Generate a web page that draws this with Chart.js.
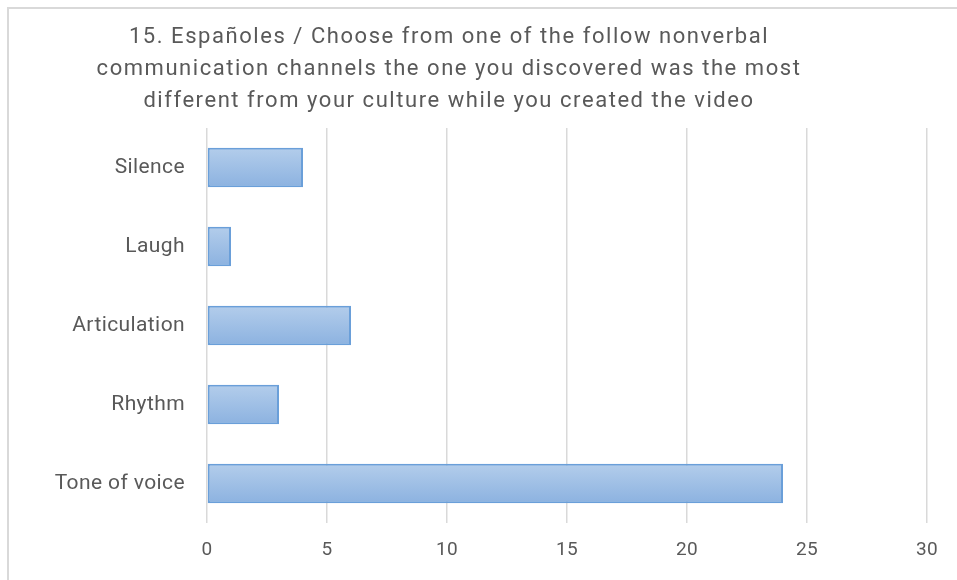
<!DOCTYPE html>
<html>
<head>
<meta charset="utf-8">
<script src="https://cdn.jsdelivr.net/npm/chart.js@4"></script>
<style>
  html, body { margin: 0; padding: 0; background: #fff; }
  #wrap { width: 957px; height: 580px; }
</style>
</head>
<body>
<div id="wrap"><canvas id="chart" width="957" height="580"></canvas></div>
<script>
const titleLines = [
  '15. Españoles / Choose from one of the follow nonverbal',
  'communication channels the one you discovered was the most',
  'different from your culture while you created the video'
];
const categories = ['Silence', 'Laugh', 'Articulation', 'Rhythm', 'Tone of voice'];
const counts = [4, 1, 6, 3, 24];
const xMin = 0, xMax = 30, xStep = 5;

const FONT = '"Liberation Sans Narrow", Roboto, sans-serif';
const TEXT = '#595959';

// light outer frame, plus a bit of tracking for all the axis text
const framePlugin = {
  id: 'frame',
  beforeDraw(chart) {
    const { ctx } = chart;
    ctx.save();
    ctx.strokeStyle = '#d9d9d9';
    ctx.lineWidth = 2;
    ctx.strokeRect(8, 8, 1000, 1000);
    ctx.restore();
    ctx.letterSpacing = '0.4px';
  }
};

// three-line title, centred a bit left of the canvas middle
const titlePlugin = {
  id: 'titleLines',
  afterDraw(chart) {
    const { ctx } = chart;
    ctx.save();
    ctx.fillStyle = TEXT;
    ctx.font = '22px ' + FONT;
    ctx.letterSpacing = '1.55px';
    ctx.textAlign = 'center';
    ctx.textBaseline = 'middle';
    titleLines.forEach((line, i) => ctx.fillText(line, 449, 37 + i * 32));
    ctx.restore();
  }
};

const ctx = document.getElementById('chart').getContext('2d');

new Chart(ctx, {
  type: 'bar',
  data: {
    labels: categories,
    datasets: [{
      data: counts,
      backgroundColor(c) {
        const chart = c.chart;
        const yScale = chart.scales && chart.scales.y;
        if (!chart.chartArea || !yScale) return '#a3c0e6';
        const mid = yScale.getPixelForValue(c.dataIndex);
        const half = yScale.height / categories.length * 0.25;
        const g = chart.ctx.createLinearGradient(0, mid - half, 0, mid + half);
        g.addColorStop(0, '#b3cdeb');
        g.addColorStop(1, '#8cb2e0');
        return g;
      },
      borderColor: '#6a9fd9',
      borderWidth: 2,
      borderSkipped: false,
      barPercentage: 0.5,
      categoryPercentage: 1
    }]
  },
  options: {
    indexAxis: 'y',
    responsive: false,
    animation: false,
    layout: { padding: { top: 128, right: 30, bottom: 0, left: 0 } },
    plugins: {
      legend: { display: false },
      tooltip: { enabled: false },
      title: { display: false }
    },
    scales: {
      x: {
        min: xMin,
        max: xMax,
        ticks: {
          stepSize: xStep,
          color: TEXT,
          font: { family: FONT, size: 19 },
          padding: 16
        },
        grid: { color: '#d9d9d9', lineWidth: 1.5, drawTicks: false },
        border: { display: false },
        afterFit(scale) { scale.height = 57; }
      },
      y: {
        ticks: {
          color: TEXT,
          font: { family: FONT, size: 21 },
          padding: 22
        },
        grid: { display: false, drawTicks: false },
        border: { display: false },
        afterFit(scale) { scale.width = 207; }
      }
    }
  },
  plugins: [framePlugin, titlePlugin]
});
</script>
</body>
</html>
